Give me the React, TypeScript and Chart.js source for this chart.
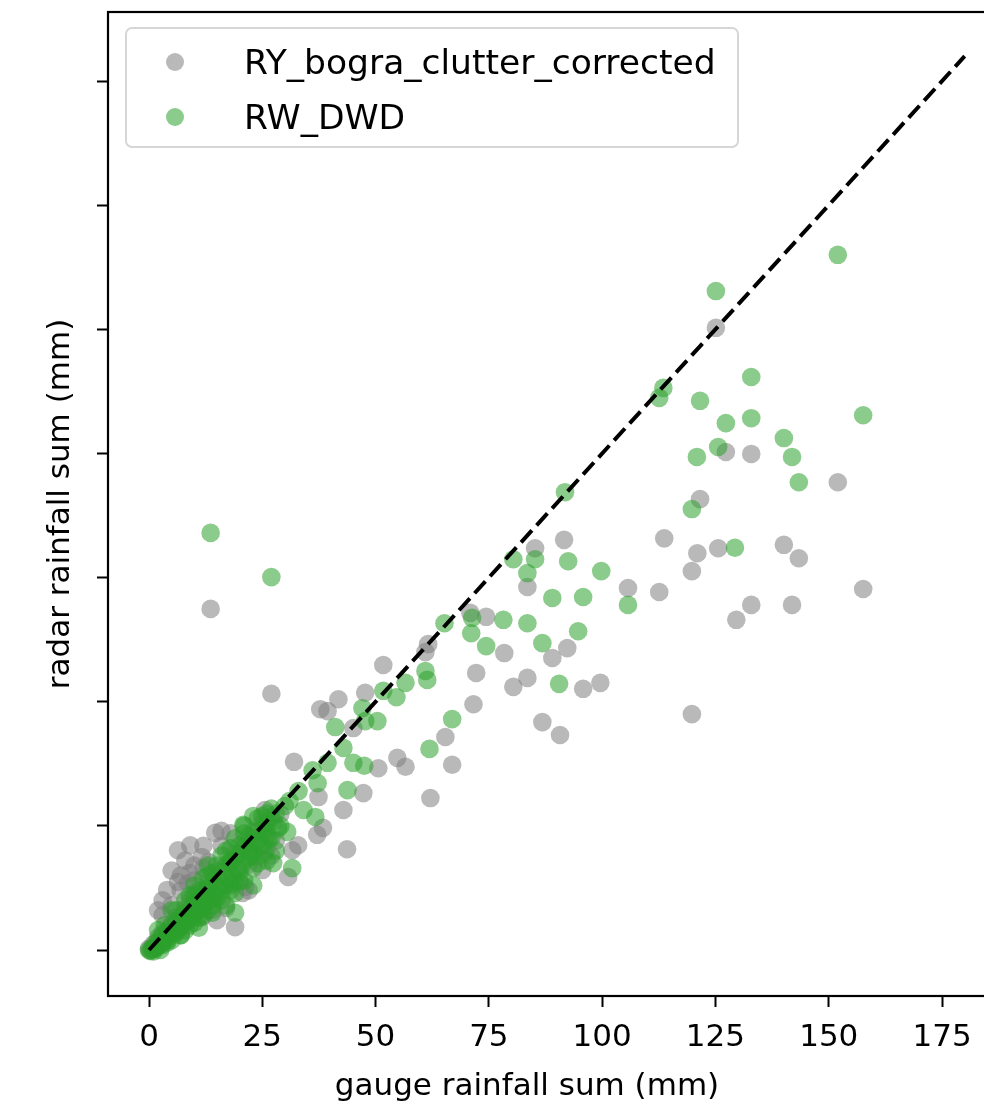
import React, { useEffect, useRef } from "react";
import { Chart, registerables } from "chart.js";

Chart.register(...registerables);

// ---- data (gauge sum x, radar sum y) ----
const grayX = [
  125.1, 127.3, 132.9, 152.0, 121.6, 113.7, 121.0, 125.6, 119.8, 140.1, 143.4, 105.7, 112.6, 132.9, 141.9, 129.6, 157.6, 119.8,
  91.6, 85.2, 83.5, 70.9, 74.4, 61.6, 61.0, 78.4, 89.0, 92.3, 72.2, 83.5, 80.4, 95.8, 99.6, 71.6, 86.8, 90.7, 65.4, 56.6, 66.9, 62.1,
  13.6, 27.0, 51.7, 41.8, 37.8, 39.4, 47.7, 32.0, 45.1, 54.8, 50.6, 47.3, 42.9, 37.4, 37.1, 43.7, 32.9, 38.4,
  14.6, 6.4, 9.1, 11.7, 13.1, 25.6, 4.0, 6.4, 8.6, 20.7, 19.0, 21.2, 25.0, 30.7, 31.6, 14.1, 11.7,
  0, 0.5, 1, 1.5, 2, 2.5, 3, 4, 5, 5.5, 6, 7, 8, 8.5, 9, 10, 11, 12, 13, 14, 15, 16, 17, 18, 19, 20, 21, 22, 23, 24, 25, 26, 27, 28, 29,
  3, 5, 7, 10, 12, 16, 18, 15, 17, 22, 27,
  5, 8, 10, 3, 7, 12, 16, 2, 9,
];
const grayY = [
  125.3, 100.3, 99.9, 94.2, 90.8, 82.9, 79.9, 80.9, 76.3, 81.6, 78.9, 72.9, 72.1, 69.5, 69.5, 66.5, 72.7, 47.5,
  82.6, 80.9, 73.1, 67.9, 67.1, 61.6, 60.0, 59.8, 58.8, 60.8, 55.8, 54.8, 53.0, 52.6, 53.8, 49.5, 45.9, 43.3, 42.9, 36.9, 37.3, 30.6,
  68.7, 51.6, 57.4, 50.5, 48.5, 48.1, 51.8, 37.9, 44.7, 38.7, 36.6, 31.6, 28.2, 30.8, 23.2, 20.3, 21.1, 24.6,
  23.6, 20.1, 21.1, 18.7, 17.7, 28.2, 12.1, 13.7, 13.5, 11.5, 4.6, 12.7, 16.1, 14.7, 20.1, 8.1, 6.6,
  0.3, 0, 1.2, 0.5, 2.5, 1.2, 3.5, 2.8, 5.5, 3.8, 6.6, 4.6, 8.5, 6.2, 9.8, 7, 11.5, 8.6, 13.5, 10.5, 15.8, 11.8, 17.2, 13.5, 19.5, 15.2, 21.8, 17.3, 23.9, 18.8, 25.5, 20.5, 26.8, 22, 27.4,
  7, 9, 12, 14, 16.5, 21, 23.5, 6, 8.5, 12, 19,
  16, 18, 17, 10, 15, 21, 24, 8, 15.5,
];

const greenX = [
  152.0, 125.1, 113.5, 112.6, 132.9, 121.6, 127.3, 132.9, 125.6, 120.9, 140.1, 141.9, 143.4, 157.6, 119.8, 129.3, 105.7,
  91.8, 13.6, 27.0, 80.4, 85.2, 92.5, 99.8, 83.5, 89.0, 95.8, 65.2, 71.3, 71.1, 78.2, 83.5, 74.4, 86.8, 94.7, 61.0, 61.4, 56.6, 90.5,
  66.9, 61.9, 54.6, 51.7, 50.4, 47.7, 47.1, 41.1, 42.9, 45.1, 47.5, 39.4, 36.1, 43.8, 37.2, 36.7, 34.1,
  30.5, 31.6, 27.4, 25.7, 20.8, 19.0,
  0, 0.3, 0.8, 1.2, 1.5, 2, 2.2, 2.8, 3, 3.5, 4, 4.3, 5, 5.5, 6, 6.4, 7, 7.5, 8, 8.5, 9, 9.5, 10, 10.5, 11, 11.8, 12, 12.5, 13, 13.5,
  14, 14.5, 15, 15.5, 16, 16.8, 17, 17.5, 18, 18.5, 19, 19.5, 20, 20.5, 21, 22, 22.5, 23, 24, 24.5, 25, 26,
  3.5, 6, 9, 12, 15, 18, 21, 24, 20, 23, 25.5, 22, 26.5, 27.5, 28, 16, 18, 11, 13, 8, 5, 2.5, 1, 4, 7, 10, 14, 19, 23, 26, 28.5, 30, 31, 33,
  2, 4, 5, 7, 8, 9, 10, 11, 12, 13, 14, 15, 16, 17, 18, 19, 20, 21, 22, 23, 24, 25, 26, 27, 28, 29, 17, 19, 21, 23, 24, 26, 13, 11, 6, 3, 10, 14, 18, 22, 25, 27, 20, 15, 12, 9,
];
const greenY = [
  140.0, 132.7, 113.2, 111.2, 115.4, 110.6, 106.1, 107.1, 101.3, 99.3, 103.1, 99.3, 94.2, 107.7, 88.8, 81.0, 69.5,
  92.2, 84.0, 75.1, 78.7, 78.7, 78.3, 76.3, 75.9, 70.9, 71.1, 65.8, 66.9, 63.8, 66.5, 65.8, 61.2, 61.8, 64.2, 56.2, 54.4, 53.8, 53.6,
  46.5, 40.5, 50.9, 52.2, 46.1, 46.1, 48.7, 44.9, 40.7, 37.7, 37.1, 37.7, 36.2, 32.2, 33.6, 26.8, 28.2,
  23.8, 16.5, 17.5, 24.2, 25.2, 7.5,
  0, -0.2, 0.5, 0.2, 1.4, 0.8, 2.0, 1.5, 3, 2.2, 3.8, 2.6, 4.8, 3.5, 5.7, 4.2, 6.8, 5.0, 7.5, 5.9, 8.8, 7.0, 9.6, 7.8, 10.6, 8.5, 11.8, 9.5, 12.4, 10.2,
  13.6, 11.0, 14.5, 12.3, 15.5, 13.0, 16.8, 14.2, 17.5, 15.0, 18.6, 16.3, 19.4, 17.2, 20.8, 21.5, 18.9, 22.4, 23.8, 21, 24.2, 25.5,
  5.0, 8, 11, 14.5, 17, 20.5, 23.5, 26.5, 13.8, 16.5, 19.5, 20, 22.5, 26, 27.5, 10, 12, 6.5, 8, 4, 2, 0, -0.3, 1.5, 3, 5.5, 9, 14, 19.5, 23, 24.5, 29, 30, 32,
  4, 2, 8, 3, 10, 5, 13, 4.5, 7, 15, 7.5, 10.5, 19, 9, 13, 11.5, 16, 14, 18.5, 13, 17.5, 21, 18, 22.5, 20, 25, 20, 22.5, 25, 27, 22, 27.5, 17, 12, 3.5, 1, 11, 15.5, 18, 23, 27, 28.5, 21, 12.5, 9.5, 6.5,
];

const lineX = [0, 180];
const lineY = [0, 180];

const xTicks = [0, 25, 50, 75, 100, 125, 150, 175];
const yTicks = [0, 25, 50, 75, 100, 125, 150, 175];

const seriesNames = ["RY_bogra_clutter_corrected", "RW_DWD"];
const xLabel = "gauge rainfall sum (mm)";
const yLabel = "radar rainfall sum (mm)";

const GRAY = "rgba(128,128,128,0.55)";
const GREEN = "rgba(44,160,44,0.55)";
const FONT = '"DejaVu Sans", sans-serif';

const toPts = (xs: number[], ys: number[]) => xs.map((x, i) => ({ x, y: ys[i] }));

export default function App() {
  const ref = useRef<HTMLCanvasElement | null>(null);

  useEffect(() => {
    if (!ref.current) return;

    const framePlugin = {
      id: "frame",
      afterDatasetsDraw(chart: any) {
        const { ctx, chartArea: a } = chart;
        ctx.save();
        ctx.strokeStyle = "#000";
        ctx.lineWidth = 2.2;
        ctx.strokeRect(a.left, a.top, a.right - a.left, a.bottom - a.top);
        ctx.restore();
      },
    };

    const legendPlugin = {
      id: "mplLegend",
      afterDraw(chart: any) {
        const ctx = chart.ctx;
        const ds = chart.data.datasets.filter((d: any) => seriesNames.includes(d.label));
        ctx.save();
        const x0 = 126, y0 = 28, w = 612, h = 119, r = 6;
        ctx.beginPath();
        ctx.moveTo(x0 + r, y0);
        ctx.arcTo(x0 + w, y0, x0 + w, y0 + h, r);
        ctx.arcTo(x0 + w, y0 + h, x0, y0 + h, r);
        ctx.arcTo(x0, y0 + h, x0, y0, r);
        ctx.arcTo(x0, y0, x0 + w, y0, r);
        ctx.closePath();
        ctx.fillStyle = "rgba(255,255,255,0.8)";
        ctx.fill();
        ctx.strokeStyle = "#d6d6d6";
        ctx.lineWidth = 2;
        ctx.stroke();
        ds.forEach((d: any, i: number) => {
          const cy = 62 + i * 55;
          ctx.beginPath();
          ctx.arc(175, cy, 9, 0, Math.PI * 2);
          ctx.fillStyle = d.backgroundColor;
          ctx.fill();
          ctx.fillStyle = "#000";
          ctx.font = `34.5px ${FONT}`;
          ctx.textAlign = "left";
          ctx.textBaseline = "alphabetic";
          ctx.fillText(d.label, 244, cy + 12);
        });
        ctx.restore();
      },
    };

    const titlesPlugin = {
      id: "axisTitles",
      afterDraw(chart: any) {
        const ctx = chart.ctx;
        ctx.save();
        ctx.fillStyle = "#000";
        ctx.font = `31px ${FONT}`;
        ctx.textAlign = "center";
        ctx.textBaseline = "alphabetic";
        ctx.fillText(xLabel, 527, 1095);
        ctx.translate(69, 504);
        ctx.rotate(-Math.PI / 2);
        ctx.fillText(yLabel, 0, 0);
        ctx.restore();
      },
    };

    const chart = new Chart(ref.current, {
      type: "scatter",
      data: {
        datasets: [
          {
            type: "line",
            label: "1:1",
            data: toPts(lineX, lineY),
            borderColor: "#000",
            borderWidth: 4,
            borderDash: [16, 7],
            pointRadius: 0,
            showLine: true,
            fill: false,
            order: 0,
          } as any,
          {
            label: seriesNames[0],
            data: toPts(grayX, grayY),
            backgroundColor: GRAY,
            pointRadius: 9.3,
            pointBorderWidth: 0,
            pointHoverRadius: 9.3,
            order: 2,
          },
          {
            label: seriesNames[1],
            data: toPts(greenX, greenY),
            backgroundColor: GREEN,
            pointRadius: 9.3,
            pointBorderWidth: 0,
            pointHoverRadius: 9.3,
            order: 1,
          },
        ],
      },
      options: {
        responsive: false,
        animation: false,
        devicePixelRatio: 1,
        layout: { padding: { left: 0, top: 12, right: 10, bottom: 0 } },
        plugins: {
          legend: { display: false },
          tooltip: { enabled: false },
        },
        scales: {
          x: {
            type: "linear",
            min: -9.05,
            max: 190.0,
            afterBuildTicks: (s: any) => {
              s.ticks = xTicks.map((v) => ({ value: v }));
            },
            afterFit: (s: any) => {
              s.height = 107;
            },
            border: { display: false },
            grid: {
              display: true,
              drawOnChartArea: false,
              drawTicks: true,
              tickLength: 11,
              tickColor: "#000",
              tickWidth: 2,
              color: "#000",
            },
            ticks: {
              color: "#000",
              font: { family: FONT, size: 31 },
              padding: 12,
              maxRotation: 0,
              autoSkip: false,
            },
            title: { display: false },
          },
          y: {
            type: "linear",
            min: -9.26,
            max: 188.9,
            afterBuildTicks: (s: any) => {
              s.ticks = yTicks.map((v) => ({ value: v }));
            },
            afterFit: (s: any) => {
              s.width = 108;
              s.paddingTop = 0;
              s.paddingBottom = 0;
            },
            border: { display: false },
            grid: {
              display: true,
              drawOnChartArea: false,
              drawTicks: true,
              tickLength: 11,
              tickColor: "#000",
              tickWidth: 2,
              color: "#000",
            },
            ticks: {
              callback: () => "",
              font: { family: FONT, size: 1 },
              padding: 0,
              autoSkip: false,
            },
            title: { display: false },
          },
        },
      } as any,
      plugins: [framePlugin, legendPlugin, titlesPlugin],
    });

    return () => chart.destroy();
  }, []);

  return (
    <div
      style={{
        position: "absolute",
        left: 0,
        top: 0,
        width: 984,
        height: 1103,
        overflow: "hidden",
        background: "#fff",
      }}
    >
      <canvas ref={ref} width={1020} height={1103} style={{ display: "block", width: 1020, height: 1103 }} />
    </div>
  );
}
